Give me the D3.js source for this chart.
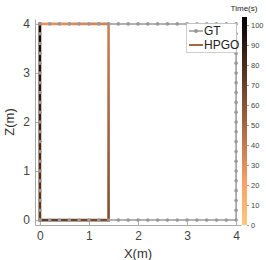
<!DOCTYPE html>
<html><head><meta charset="utf-8">
<script src="https://cdn.jsdelivr.net/npm/d3@7"></script>
<style>body{margin:0;background:#fff}svg{display:block}text{font-family:"Liberation Sans",Arial,sans-serif}</style>
</head><body><svg id="c" width="266" height="260"></svg>
<script>
// Ground truth trajectory (m)
const gtX = [0,0.2,0.4,0.6,0.8,1.0,1.2,1.4,1.6,1.8,2.0,2.2,2.4,2.6,2.8,3.0,3.2,3.4,3.6,3.8,
             4,4,4,4,4,4,4,4,4,4,4,4,4,4,4,4,4,4,4,4,
             4,3.8,3.6,3.4,3.2,3.0,2.8,2.6,2.4,2.2,2.0,1.8,1.6,1.4,1.2,1.0,0.8,0.6,0.4,0.2,
             0,0,0,0,0,0,0,0,0,0,0,0,0,0,0,0,0,0,0,0,0];
const gtZ = [0,0,0,0,0,0,0,0,0,0,0,0,0,0,0,0,0,0,0,0,
             0,0.2,0.4,0.6,0.8,1.0,1.2,1.4,1.6,1.8,2.0,2.2,2.4,2.6,2.8,3.0,3.2,3.4,3.6,3.8,
             4,4,4,4,4,4,4,4,4,4,4,4,4,4,4,4,4,4,4,4,
             4,3.8,3.6,3.4,3.2,3.0,2.8,2.6,2.4,2.2,2.0,1.8,1.6,1.4,1.2,1.0,0.8,0.6,0.4,0.2,0];
// HPGO estimate waypoints with time (s)
const hpgoX = [0, 0, 1.4, 1.4, 0, 0];
const hpgoZ = [0, 4, 4, 0, 0, 4];
const hpgoT = [0, 27, 36.5, 63.5, 73, 100];
const xTicks = [0,1,2,3,4];
const zTicks = [0,1,2,3,4];
const cTicks = [0,10,20,30,40,50,60,70,80,90,100];
const tMax = 104;
const legendLabels = ["GT","HPGO"];

const svg = d3.select("#c");
const x = d3.scaleLinear([-0.1,4.1],[35,241]);
const y = d3.scaleLinear([-0.1,4.1],[225,19]);
const copper = v => { const t = 1 - v/tMax;
  return d3.rgb(Math.min(255,255*1.25*t), 255*0.7812*t, 255*0.4975*t).formatHex(); };

const defs = svg.append("defs");
const fmt = d3.format("d");

// axes
const ax = svg.append("g").attr("transform","translate(0,225)")
  .call(d3.axisBottom(x).tickValues(xTicks).tickFormat(fmt).tickSizeInner(-3).tickSizeOuter(0).tickPadding(6));
const ay = svg.append("g").attr("transform","translate(35,0)")
  .call(d3.axisLeft(y).tickValues(zTicks).tickFormat(fmt).tickSizeInner(-3).tickSizeOuter(0).tickPadding(5));
[ax,ay].forEach(g=>{
  g.selectAll("path,line").attr("stroke","#aaa").attr("stroke-width",1);
  g.selectAll("text").attr("font-size",12).attr("fill","#444");
});
svg.append("text").attr("x",138).attr("y",258).attr("text-anchor","middle")
  .attr("font-size",13).attr("fill","#333").text("X(m)");
svg.append("text").attr("transform","translate(14,122) rotate(-90)").attr("text-anchor","middle")
  .attr("font-size",13).attr("fill","#333").text("Z(m)");

// GT line
const gtPts = gtX.map((d,i)=>[d,gtZ[i]]);
svg.append("path").attr("d", d3.line().x(d=>x(d[0])).y(d=>y(d[1]))(gtPts))
  .attr("fill","none").attr("stroke","#999").attr("stroke-width",1.5);

// HPGO segments with time gradients
for (let i=0;i<hpgoX.length-1;i++){
  const x1=x(hpgoX[i]), y1=y(hpgoZ[i]), x2=x(hpgoX[i+1]), y2=y(hpgoZ[i+1]);
  const id="g"+i;
  const gr=defs.append("linearGradient").attr("id",id).attr("gradientUnits","userSpaceOnUse")
    .attr("x1",x1).attr("y1",y1).attr("x2",x2).attr("y2",y2);
  gr.append("stop").attr("offset",0).attr("stop-color",copper(hpgoT[i]));
  gr.append("stop").attr("offset",1).attr("stop-color",copper(hpgoT[i+1]));
  svg.append("line").attr("x1",x1).attr("y1",y1).attr("x2",x2+(x1===x2?0.001:0)).attr("y2",y2+(y1===y2?0.001:0))
    .attr("stroke","url(#"+id+")").attr("stroke-width",2.6).attr("stroke-linecap","square");
}

// GT markers
svg.append("g").selectAll("circle").data(gtPts).join("circle")
  .attr("cx",d=>x(d[0])).attr("cy",d=>y(d[1])).attr("r",1.8).attr("fill","#999");

// legend
const lg = svg.append("g");
lg.append("rect").attr("x",186.5).attr("y",23.5).attr("width",50).attr("height",29)
  .attr("fill","#fff").attr("stroke","#bbb").attr("stroke-width",0.7);
lg.append("line").attr("x1",189).attr("x2",203).attr("y1",31).attr("y2",31).attr("stroke","#999").attr("stroke-width",1.5);
lg.append("circle").attr("cx",196).attr("cy",31).attr("r",2).attr("fill","#999");
lg.append("line").attr("x1",189).attr("x2",203).attr("y1",45).attr("y2",45).attr("stroke",copper(50)).attr("stroke-width",2);
lg.selectAll("text.l").data(legendLabels).join("text").attr("class","l")
  .attr("x",204).attr("y",(d,i)=>35+i*14).attr("font-size",12).attr("fill","#222").text(d=>d);

// colorbar
const c = d3.scaleLinear([0,tMax],[225,17]);
const cg = defs.append("linearGradient").attr("id","cb").attr("x1",0).attr("y1",1).attr("x2",0).attr("y2",0);
d3.range(0,11).forEach(k=>cg.append("stop").attr("offset",k/10).attr("stop-color",copper(tMax*k/10)));
svg.append("rect").attr("x",242).attr("y",17).attr("width",5).attr("height",208).attr("fill","url(#cb)");
const ca = svg.append("g").attr("transform","translate(247,0)")
  .call(d3.axisRight(c).tickValues(cTicks).tickSize(2).tickPadding(2));
ca.select(".domain").remove();
ca.selectAll("line").attr("stroke","#999");
ca.selectAll("text").attr("font-size",7.5).attr("fill","#444");
svg.append("text").attr("x",244).attr("y",11).attr("text-anchor","middle")
  .attr("font-size",8).attr("fill","#222").text("Time(s)");
</script></body></html>
